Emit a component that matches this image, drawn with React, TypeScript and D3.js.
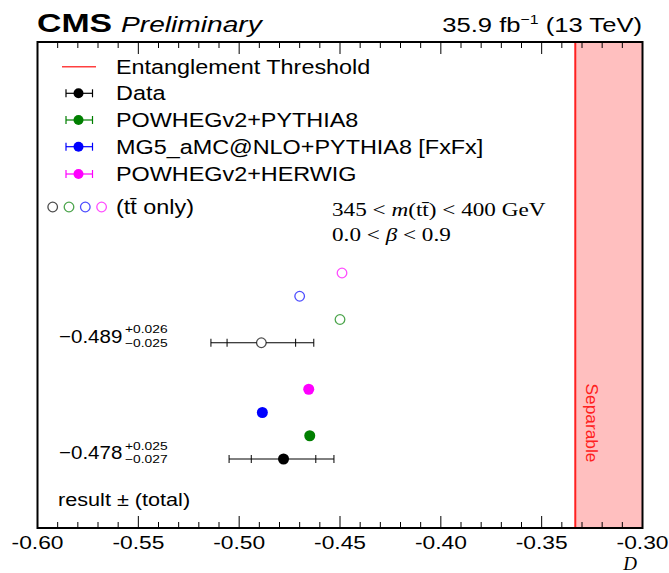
import React from "react";
import * as d3 from "d3";

// ---- data ----
const seriesNames = ["Data", "POWHEGv2+PYTHIA8", "MG5_aMC@NLO+PYTHIA8 [FxFx]", "POWHEGv2+HERWIG"];
const seriesColors = ["#000000", "#007f00", "#0000ff", "#ff00ff"];
// full prediction / measurement (filled markers)
const fullValues = [-0.478, -0.465, -0.4885, -0.4655];
// tt-only (open markers)
const ttOnlyValues = [-0.489, -0.45, -0.47, -0.449];
// data uncertainties: [full result, tt only]
const dataTotUp = [0.025, 0.026];
const dataTotDown = [0.027, 0.025];
const dataStat = [0.016, 0.017];
const dataLabels = ["\u22120.478", "\u22120.489"];
const dataSup = ["+0.025", "+0.026"];
const dataSub = ["\u22120.027", "\u22120.025"];
const threshold = -1 / 3;
const xDomain = [-0.6, -0.3];
const majorTicks = [-0.6, -0.55, -0.5, -0.45, -0.4, -0.35, -0.3];
const tickLabels = ["-0.60", "-0.55", "-0.50", "-0.45", "-0.40", "-0.35", "-0.30"];

const W = 669;
const H = 573;
const L = 37.5, R = 642.5, T = 42, B = 528;

const SANS = "'Liberation Sans', Arial, Helvetica, sans-serif";
const SERIF = "'Liberation Serif', 'DejaVu Serif', serif";

function St(props: any) {
  const { x, y, sx = 1.18, anchor = "start", children, transform, ...rest } = props;
  return (
    <text
      transform={transform || `translate(${x},${y}) scale(${sx},1)`}
      textAnchor={anchor}
      fontFamily={SANS}
      {...rest}
    >
      {children}
    </text>
  );
}

export default function App() {
  const x = d3.scaleLinear().domain(xDomain).range([L, R]);
  // row index -> vertical position
  const y = d3.scaleLinear().domain([0, 8]).range([459, 273]);
  const minorTicks = d3.range(0, 31).map((i) => xDomain[0] + i * 0.01);

  const errBar = (v: number, up: number, down: number, stat: number, yy: number, key: string) => {
    const capH = 4;
    const pts = [v - down, v - stat, v + stat, v + up];
    return (
      <g key={key} stroke="#000" strokeWidth={1}>
        <line x1={x(v - down)} x2={x(v + up)} y1={yy} y2={yy} />
        {pts.map((p, i) => (
          <line key={i} x1={x(p)} x2={x(p)} y1={yy - capH} y2={yy + capH} />
        ))}
      </g>
    );
  };

  const legendRows = [93.3, 120, 146.7, 174];

  return (
    <svg width={W} height={H} style={{ position: "absolute", left: 0, top: 0, background: "#fff" }}>
      {/* separable band */}
      <rect x={x(threshold)} y={T} width={R - x(threshold)} height={B - T} fill="#ffbfbf" />
      <line x1={x(threshold)} x2={x(threshold)} y1={T} y2={B} stroke="#ff2020" strokeWidth={2} />
      <St
        fill="#ff2020"
        fontSize={17}
        transform={`translate(${x(threshold) + 11},423) rotate(90) scale(1.02,1)`}
        anchor="middle"
      >
        Separable
      </St>

      {/* ticks */}
      {minorTicks.map((t, i) => {
        const major = i % 5 === 0;
        const len = major ? 12 : 6;
        return (
          <g key={i} stroke="#000" strokeWidth={1}>
            <line x1={x(t)} x2={x(t)} y1={B} y2={B - len} />
            <line x1={x(t)} x2={x(t)} y1={T} y2={T + len} />
          </g>
        );
      })}
      {majorTicks.map((t, i) => (
        <St key={i} x={x(t)} y={549} anchor="middle" fontSize={19} sx={1.2}>
          {tickLabels[i]}
        </St>
      ))}
      <text x={630} y={570} fontFamily={SERIF} fontStyle="italic" fontSize={19} textAnchor="middle">
        D
      </text>

      {/* frame */}
      <rect x={L} y={T} width={R - L} height={B - T} fill="none" stroke="#000" strokeWidth={2} />

      {/* header */}
      <St x={37} y={32} fontSize={26} fontWeight="bold" sx={1.3}>
        CMS
      </St>
      <St x={121} y={32} fontSize={22} fontStyle="italic" sx={1.28}>
        Preliminary
      </St>
      <St x={642} y={32} fontSize={21} anchor="end" sx={1.22}>
        35.9 fb
        <tspan dy={-8} fontSize={13}>
          {"\u22121"}
        </tspan>
        <tspan dy={8}> (13 TeV)</tspan>
      </St>

      {/* legend */}
      <line x1={62} x2={96} y1={66.7} y2={66.7} stroke="#ff4040" strokeWidth={1.5} />
      <St x={116} y={74} fontSize={19.5} sx={1.2}>
        Entanglement Threshold
      </St>
      {seriesNames.map((name, i) => (
        <g key={name}>
          <g stroke={seriesColors[i]} strokeWidth={1.2}>
            <line x1={66} x2={92.5} y1={legendRows[i]} y2={legendRows[i]} />
            <line x1={66} x2={66} y1={legendRows[i] - 4} y2={legendRows[i] + 4} />
            <line x1={92.5} x2={92.5} y1={legendRows[i] - 4} y2={legendRows[i] + 4} />
          </g>
          <circle cx={78.5} cy={legendRows[i]} r={5} fill={seriesColors[i]} />
          <St x={116} y={legendRows[i] + 7} fontSize={19.5} sx={1.2}>
            {name}
          </St>
        </g>
      ))}
      {seriesColors.map((c, i) => (
        <circle
          key={c}
          cx={52.7 + i * 16.3}
          cy={207}
          r={4.8}
          fill="none"
          stroke={c}
          strokeOpacity={0.7}
          strokeWidth={1.3}
        />
      ))}
      <St x={116} y={214} fontSize={19.5} sx={1.2}>
        (tt{"\u0304"} only)
      </St>

      {/* region text */}
      <St x={332} y={216} fontSize={19} sx={1.22} fontFamily={SERIF}>
        345 {"<"} <tspan fontStyle="italic">m</tspan>(tt{"\u0304"}) {"<"} 400 GeV
      </St>
      <St x={332} y={241} fontSize={19} sx={1.22} fontFamily={SERIF}>
        0.0 {"<"} <tspan fontStyle="italic">β</tspan> {"<"} 0.9
      </St>

      {/* error bars */}
      {errBar(ttOnlyValues[0], dataTotUp[1], dataTotDown[1], dataStat[1], y(5), "e1")}
      {errBar(fullValues[0], dataTotUp[0], dataTotDown[0], dataStat[0], y(0), "e0")}
      {/* tt only markers */}
      {ttOnlyValues.map((v, i) => (
        <circle
          key={"o" + i}
          cx={x(v)}
          cy={y(5 + i)}
          r={4.8}
          fill="#fff"
          stroke={seriesColors[i]}
          strokeOpacity={0.7}
          strokeWidth={1.3}
        />
      ))}
      {fullValues.map((v, i) => (
        <circle key={"f" + i} cx={x(v)} cy={y(i)} r={5.5} fill={seriesColors[i]} />
      ))}

      {/* value labels */}
      {[0, 1].map((k) => {
        const yy = k === 0 ? y(0) : y(5);
        return (
          <g key={"lab" + k}>
            <St x={59} y={yy} fontSize={19} sx={1.08}>
              {dataLabels[k]}
            </St>
            <St x={125} y={yy - 9.5} fontSize={11.5} sx={1.2}>
              {dataSup[k]}
            </St>
            <St x={125} y={yy + 4} fontSize={11.5} sx={1.2}>
              {dataSub[k]}
            </St>
          </g>
        );
      })}
      <St x={58} y={506} fontSize={18.5} sx={1.17}>
        result ± (total)
      </St>
    </svg>
  );
}
